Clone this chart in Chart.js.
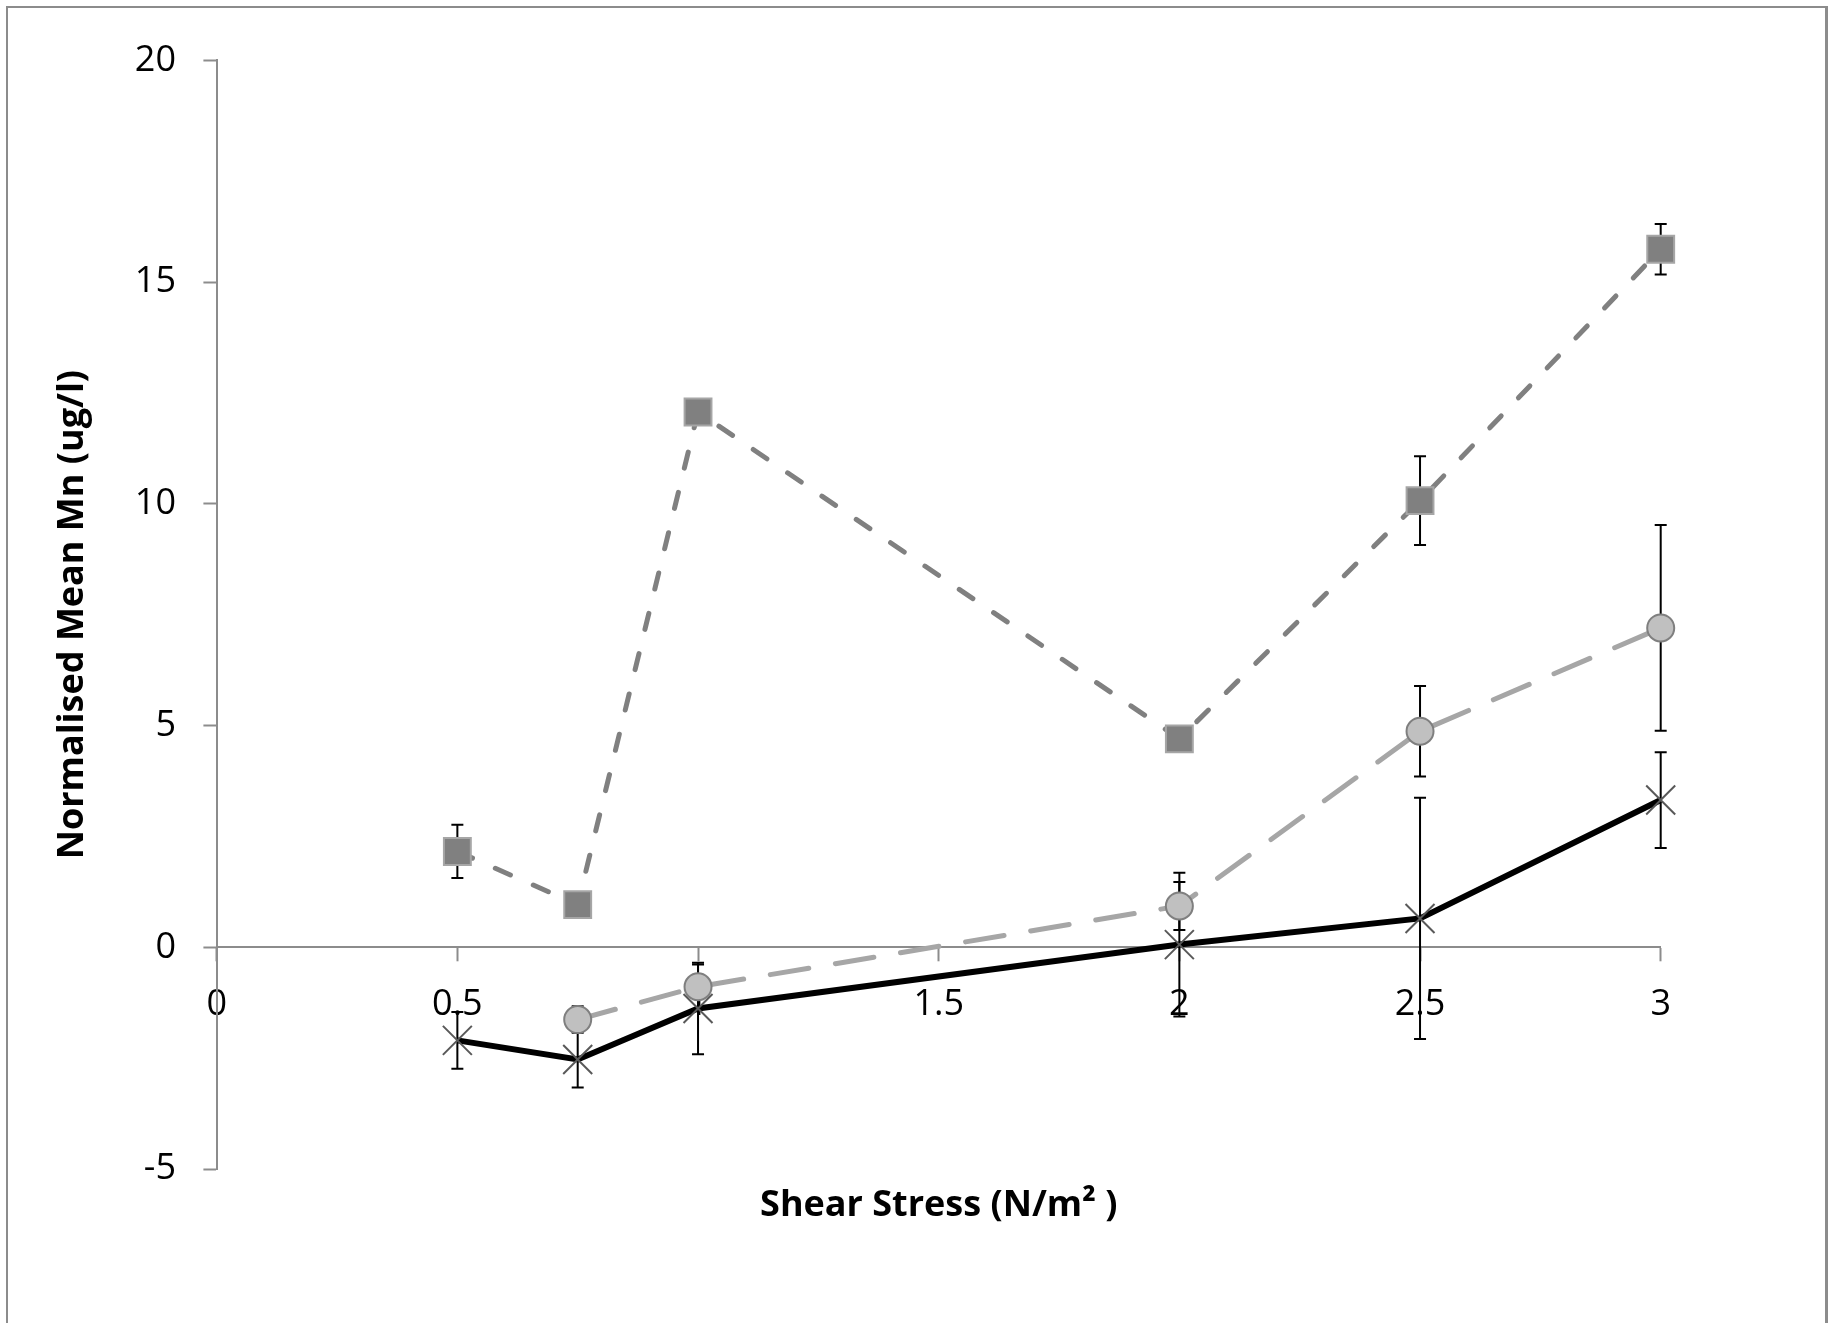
<!doctype html>
<html lang="en">
<head>
  <meta charset="utf-8" />
  <title>Normalised Mean Mn vs Shear Stress</title>
  <style>
    html,body{margin:0;padding:0;background:#fff}
    .wrap{position:relative;width:1834px;height:1323px;overflow:hidden}
    .frame{position:absolute;left:6px;top:6px;width:1817px;height:1400px;
           border-left:2px solid #8c8c8c;border-top:2px solid #8c8c8c;border-right:3px solid #8c8c8c}
    canvas{position:absolute;left:0;top:0}
  </style>
  <script src="https://cdn.jsdelivr.net/npm/chart.js@4.4.1/dist/chart.umd.min.js"></script>
</head>
<body>
<div class="wrap">
  <div class="frame"></div>
  <canvas id="c" width="1834" height="1323"></canvas>
</div>
<script>
// values
const squareX   = [0.5, 0.75, 1, 2, 2.5, 3];
const squareY   = [2.16, 0.96, 12.07, 4.70, 10.07, 15.74];
const squareErr = [0.6, 0.2, 0.25, 0.2, 1.0, 0.57];

const circleX   = [0.75, 1, 2, 2.5, 3];
const circleY   = [-1.63, -0.89, 0.93, 4.87, 7.20];
const circleErr = [0.3, 0.5, 0.54, 1.02, 2.32];

const crossX    = [0.5, 0.75, 1, 2, 2.5, 3];
const crossY    = [-2.10, -2.53, -1.38, 0.06, 0.65, 3.32];
const crossErr  = [0.64, 0.63, 1.03, 1.62, 2.72, 1.08];

const xTickLabels = ['0', '0.5', '1', '1.5', '2', '2.5', '3'];
const yTickLabels = ['-5', '0', '5', '10', '15', '20'];

const pts = (xs, ys, es) => xs.map((x, i) => ({ x, y: ys[i], err: es[i] }));

const AXIS = '#8c8c8c';
const FONT = '"Open Sans", "DejaVu Sans", sans-serif';

const errorBars = {
  id: 'errorBars',
  beforeDatasetsDraw(chart) {
    const { ctx, scales: { x, y } } = chart;
    ctx.save();
    ctx.strokeStyle = '#000';
    ctx.lineWidth = 2;
    chart.data.datasets.forEach(ds => {
      ds.data.forEach(p => {
        const px = x.getPixelForValue(p.x);
        const t = y.getPixelForValue(p.y + p.err);
        const b = y.getPixelForValue(p.y - p.err);
        ctx.beginPath();
        ctx.moveTo(px, t); ctx.lineTo(px, b);
        ctx.moveTo(px - 6, t); ctx.lineTo(px + 6, t);
        ctx.moveTo(px - 6, b); ctx.lineTo(px + 6, b);
        ctx.stroke();
      });
    });
    ctx.restore();
  }
};

new Chart(document.getElementById('c'), {
  type: 'line',
  data: {
    datasets: [
      {
        data: pts(crossX, crossY, crossErr),
        borderColor: '#000', borderWidth: 6,
        pointStyle: 'crossRot', pointRadius: 20.5,
        pointBorderColor: '#595959', pointBorderWidth: 2,
        pointBackgroundColor: '#595959', clip: false
      },
      {
        data: pts(circleX, circleY, circleErr),
        borderColor: '#a6a6a6', borderWidth: 5,
        borderDash: [39, 27], borderCapStyle: 'round',
        pointStyle: 'circle', pointRadius: 13.5,
        pointBackgroundColor: '#c0c0c0', pointBorderColor: '#7f7f7f',
        pointBorderWidth: 2, clip: false
      },
      {
        data: pts(squareX, squareY, squareErr),
        borderColor: '#808080', borderWidth: 5,
        borderDash: [16.5, 25], borderCapStyle: 'round',
        pointStyle: 'rect', pointRadius: 19,
        pointBackgroundColor: '#808080', pointBorderColor: '#a6a6a6',
        pointBorderWidth: 2, clip: false
      }
    ]
  },
  options: {
    responsive: false,
    animation: false,
    devicePixelRatio: 1,
    layout: { padding: { left: 0, top: 60.3, right: 173.3, bottom: 0 } },
    plugins: { legend: { display: false }, tooltip: { enabled: false } },
    scales: {
      x: {
        type: 'linear', position: { y: 0 }, min: 0, max: 3,
        ticks: {
          stepSize: 0.5, padding: 22.7, color: '#000', font: { family: FONT, size: 36 },
          maxRotation: 0, callback: (v, i) => xTickLabels[i]
        },
        grid: { drawOnChartArea: false, drawTicks: true, tickLength: 13.3, tickColor: AXIS, tickWidth: 2 },
        border: { color: AXIS, width: 2 },
        afterFit: s => { s.height = 0; }
      },
      xTitle: {
        type: 'linear', position: 'bottom', min: 0, max: 1,
        ticks: { display: false },
        grid: { display: false },
        border: { display: false },
        title: {
          display: true, text: 'Shear Stress (N/m\u00b2 )', color: '#000',
          font: { family: FONT, size: 36, weight: 'bold' }, padding: { top: 0, bottom: 95.7 }
        },
        afterFit: s => { s.height = 154; }
      },
      y: {
        type: 'linear', position: 'left', min: -5, max: 20,
        ticks: {
          stepSize: 5, padding: 27.4, color: '#000', font: { family: FONT, size: 36 },
          callback: (v, i) => yTickLabels[i]
        },
        grid: { drawOnChartArea: false, drawTicks: true, tickLength: 13.3, tickColor: AXIS, tickWidth: 2 },
        border: { color: AXIS, width: 2 },
        title: {
          display: true, text: 'Normalised Mean Mn (ug/l)', color: '#000',
          font: { family: FONT, size: 36, weight: 'bold' }, padding: { top: 51, bottom: 0 }
        },
        afterFit: s => { s.width = 216.7; }
      }
    }
  },
  plugins: [errorBars]
});
</script>
</body>
</html>
